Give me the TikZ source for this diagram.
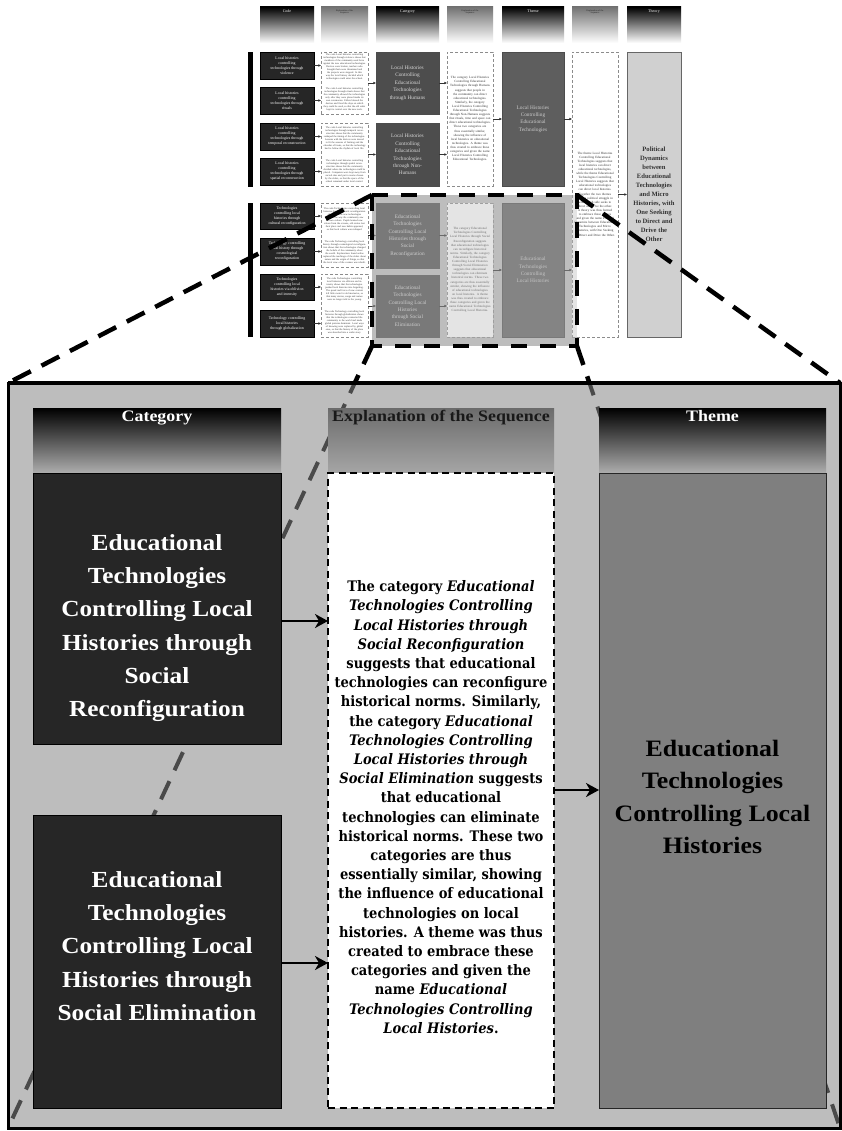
\documentclass[tikz,border=0pt]{standalone}
\usepackage{fontspec}
\setmainfont{Liberation Serif}
\newfontfamily\bodyfont{DejaVu Serif Condensed}
\newfontfamily\widefont[FakeStretch=1.1]{Liberation Serif}
\newfontfamily\headfont[FakeStretch=1.12]{Liberation Serif}
\usetikzlibrary{arrows.meta,calc}

\definecolor{panelbg}{HTML}{BDBDBD}
\definecolor{catfill}{HTML}{262626}
\definecolor{themefill}{HTML}{7F7F7F}
\definecolor{seqline}{HTML}{4A4A4A}
\definecolor{thcatfill}{HTML}{4D4D4D}
\definecolor{ththemefill}{HTML}{5E5E5E}
\definecolor{ththeoryfill}{HTML}{D0D0D0}

% box from its corners: name, style, x1, y1, x2, y2, text
\newcommand\boxnode[7]{\node[#2, minimum width={(#5)-(#3)}, minimum height={(#6)-(#4)}] (#1) at ({((#3)+(#5))/2},{((#4)+(#6))/2}) {#7};}

\tikzset{
  every node/.style={inner sep=0pt, outer sep=0pt, align=center},
  % small overview
  thhead/.style={top color=black, bottom color=white},
  thxhead/.style={top color=black!55, bottom color=white},
  thheadtext/.style={text=white, font=\fontsize{4}{4.5}\selectfont},
  thxheadtext/.style={text=black!85, font=\fontsize{2.3}{2.7}\selectfont},
  thcode/.style={fill=catfill, draw=black, line width=0.4pt, text=white, font=\fontsize{3.9}{5}\selectfont},
  thexp/.style={fill=white, draw=black!45, densely dashed, line width=0.4pt},
  thexptext/.style={text width=43pt, text=black!80, font=\fontsize{2.5}{3}\selectfont},
  thseqtext/.style={text width=42pt, text=black!80, font=\fontsize{3.2}{4.1}\selectfont},
  thcat/.style={fill=thcatfill, draw=black!70, line width=0.4pt, text=white!85!black, font=\fontsize{5.3}{7.4}\selectfont},
  ththeme/.style={fill=ththemefill, draw=black!70, line width=0.4pt, text=white!80!black, font=\fontsize{5.3}{7.4}\selectfont},
  ththeory/.style={fill=ththeoryfill, draw=black!60, line width=0.5pt, text=black!80, font=\bfseries\fontsize{6.6}{9}\selectfont},
  tharr/.style={-{Latex[length=2.6pt,width=2.6pt]}, line width=0.5pt, black!80},
  thbar/.style={fill=black},
  zoomframe/.style={draw=black, line width=4pt, dash pattern=on 16pt off 13pt},
  % enlarged view
  seqouter/.style={black, line width=4.5pt, dash pattern=on 20pt off 12pt},
  seqinner/.style={seqline, line width=4pt, dash pattern=on 20pt off 12pt},
  bighead/.style={top color=black, bottom color=black!32},
  bigxhead/.style={top color=black!58, bottom color=black!35},
  headtext/.style={font=\headfont\bfseries\fontsize{16}{18}\selectfont},
  bigcat/.style={fill=catfill, draw=black, line width=1pt},
  bigtheme/.style={fill=themefill, draw=black!85, line width=1pt},
  bigexp/.style={fill=white, draw=black, line width=2.2pt, dash pattern=on 7pt off 4.5pt},
  cattext/.style={text=white, font=\widefont\bfseries\fontsize{23}{33.3}\selectfont},
  themetext/.style={text=black, font=\widefont\bfseries\fontsize{23.5}{32.5}\selectfont},
  exptext/.style={text=black, font=\bodyfont\bfseries\fontsize{14.5}{19.2}\selectfont},
  bigarr/.style={-{Stealth[length=13pt,width=14pt,inset=4pt]}, line width=2pt, black},
}

\begin{document}
\begin{tikzpicture}[x=1pt,y=-1pt]
\useasboundingbox (0,0) rectangle (842,1131);
\fill[white] (0,0) rectangle (842,1131);

% corners of the enlarged region and of the enlarged view
\coordinate (ztl) at (372,195);
\coordinate (ztr) at (577,195);
\coordinate (zbl) at (372,346);
\coordinate (zbr) at (577,346);
\coordinate (ptl) at (8,383);
\coordinate (ptr) at (840,383);
\coordinate (pbl) at (8,1128);
\coordinate (pbr) at (840,1128);

% grey ground of the enlarged region
\fill[panelbg] (ztl) rectangle (zbr);

% ---------- overview: column heads ----------
\boxnode{h1}{thhead}{260}{7}{314}{43}{}
\boxnode{h2}{thxhead}{321}{7}{368}{43}{}
\boxnode{h3}{thhead}{376}{7}{439}{43}{}
\boxnode{h4}{thxhead}{447}{7}{493}{43}{}
\boxnode{h5}{thhead}{502}{7}{564}{43}{}
\boxnode{h6}{thxhead}{572}{7}{618}{43}{}
\boxnode{h7}{thhead}{627}{7}{681}{43}{}
\node[thheadtext, anchor=north] at ($(h1.north)+(0,2.5)$) {Code};
\node[thxheadtext, anchor=north] at ($(h2.north)+(0,2.5)$) {Explanation of the\\Sequence};
\node[thheadtext, anchor=north] at ($(h3.north)+(0,2.5)$) {Category};
\node[thxheadtext, anchor=north] at ($(h4.north)+(0,2.5)$) {Explanation of the\\Sequence};
\node[thheadtext, anchor=north] at ($(h5.north)+(0,2.5)$) {Theme};
\node[thxheadtext, anchor=north] at ($(h6.north)+(0,2.5)$) {Explanation of the\\Sequence};
\node[thheadtext, anchor=north] at ($(h7.north)+(0,2.5)$) {Theory};

% ---------- overview: brackets ----------
\fill[thbar] (248,52) rectangle (253,187);
\fill[thbar] (248,203) rectangle (253,337);

% ---------- overview: codes ----------
\boxnode{c1}{thcode}{260}{52}{314}{79}{Local histories\\controlling\\technologies through\\violence}
\boxnode{c2}{thcode}{260}{87}{314}{114}{Local histories\\controlling\\technologies through\\rituals}
\boxnode{c3}{thcode}{260}{123}{314}{150}{Local histories\\controlling\\technologies through\\temporal reconstruction}
\boxnode{c4}{thcode}{260}{158}{314}{185}{Local histories\\controlling\\technologies through\\spatial reconstruction}
\boxnode{c5}{thcode}{260}{203}{314}{229}{Technologies\\controlling local\\histories through\\cultural reconfiguration}
\boxnode{c6}{thcode}{260}{238}{314}{265}{Technology controlling\\local history through\\cosmological\\reconfiguration}
\boxnode{c7}{thcode}{260}{274}{314}{300}{Technologies\\controlling local\\histories via oblivion\\and intensity}
\boxnode{c8}{thcode}{260}{310}{314}{337}{Technology controlling\\local histories\\through globalization}

% ---------- overview: explanations of codes ----------
\boxnode{x1}{thexp}{321}{52}{368}{114}{}
\boxnode{x2}{thexp}{321}{123}{368}{186}{}
\boxnode{x3}{thexp}{321}{203}{368}{267}{}
\boxnode{x4}{thexp}{321}{274}{368}{337}{}
\node[thexptext] (t1) at (344.5,67) {The code Local histories controlling technologies through violence shows that members of the community used force against the new educational technologies. Devices were broken, teachers who brought them were threatened and the projects were stopped. In this way the local history decided which technologies could enter the school.};
\node[thexptext] (t2) at (344.5,99) {The code Local histories controlling technologies through rituals shows that the community allowed the technologies only after they were placed inside its own ceremonies. Elders blessed the devices and fixed the days on which they could be used, so that the old order kept its control over the new tools.};
\node[thexptext] (t3) at (344.5,138) {The code Local histories controlling technologies through temporal reconstruction shows that the community reshaped the timing of the technologies. Lessons with the devices were moved to fit the seasons of farming and the calendar of feasts, so that the technology had to follow the rhythm of local life.};
\node[thexptext] (t4) at (344.5,171) {The code Local histories controlling technologies through spatial reconstruction shows that the community decided where the technologies could be placed. Computers were kept away from sacred sites and put in rooms chosen by the elders, so that the space of the school remained under local control.};
\node[thexptext] (t5) at (344.5,219) {The code Technologies controlling local histories through cultural reconfiguration shows that the new technologies changed the way the community saw its own culture. Pupils learned new values from the screens, old stories lost their place and new habits appeared, so that local culture was reshaped.};
\node[thexptext] (t6) at (344.5,252) {The code Technology controlling local history through cosmological reconfiguration shows that the technologies changed the beliefs of the community about the world. Explanations found online replaced the teachings of the elders about nature and the origin of things, so that the local view of the cosmos was rebuilt.};
\node[thexptext] (t7) at (344.5,289) {The code Technologies controlling local histories via oblivion and intensity shows that the technologies pushed local histories into forgetting. The speed and force of new content left little room for old memories, so that many stories, songs and names were no longer told to the young.};
\node[thexptext] (t8) at (344.5,322) {The code Technology controlling local histories through globalization shows that the technologies connected the community to the world and made global patterns dominant. Local ways of knowing were replaced by global ones, so that the history of the place was absorbed into a wider story.};

% ---------- overview: categories ----------
\boxnode{k1}{thcat}{376}{52}{439}{114}{Local Histories\\Controlling\\Educational\\Technologies\\through Humans}
\boxnode{k2}{thcat}{376}{123}{439}{186}{Local Histories\\Controlling\\Educational\\Technologies\\through Non-\\Humans}
\boxnode{k3}{thcat}{376}{203}{439}{268}{Educational\\Technologies\\Controlling Local\\Histories through\\Social\\Reconfiguration}
\boxnode{k4}{thcat}{376}{275}{439}{337}{Educational\\Technologies\\Controlling Local\\Histories\\through Social\\Elimination}

% ---------- overview: explanations of categories ----------
\boxnode{y1}{thexp}{447}{52}{493}{186}{}
\boxnode{y2}{thexp}{447}{203}{493}{337}{}
\node[thseqtext] (u1) at (470,119) {The category Local Histories Controlling Educational Technologies through Humans suggests that people in the community can direct educational technologies. Similarly, the category Local Histories Controlling Educational Technologies through Non-Humans suggests that rituals, time and space can direct educational technologies. These two categories are thus essentially similar, showing the influence of local histories on educational technologies. A theme was thus created to embrace these categories and given the name Local Histories Controlling Educational Technologies.};
\node[thseqtext] (u2) at (470,270) {The category Educational Technologies Controlling Local Histories through Social Reconfiguration suggests that educational technologies can reconfigure historical norms. Similarly, the category Educational Technologies Controlling Local Histories through Social Elimination suggests that educational technologies can eliminate historical norms. These two categories are thus essentially similar, showing the influence of educational technologies on local histories. A theme was thus created to embrace these categories and given the name Educational Technologies Controlling Local Histories.};

% ---------- overview: themes ----------
\boxnode{m1}{ththeme}{502}{52}{564}{186}{Local Histories\\Controlling\\Educational\\Technologies}
\boxnode{m2}{ththeme}{502}{203}{564}{337}{Educational\\Technologies\\Controlling\\Local Histories}

% ---------- overview: explanation of themes and theory ----------
\boxnode{z1}{thexp}{572}{52}{618}{337}{}
\node[thseqtext] (v1) at (595,194) {The theme Local Histories Controlling Educational Technologies suggests that local histories can direct educational technologies, while the theme Educational Technologies Controlling Local Histories suggests that educational technologies can direct local histories. Together the two themes show a political struggle in which each side seeks to direct and drive the other. A theory was thus formed to embrace these themes and given the name Political Dynamics between Educational Technologies and Micro Histories, with One Seeking to Direct and Drive the Other.};
\boxnode{r1}{ththeory}{627}{52}{681}{337}{Political\\Dynamics\\between\\Educational\\Technologies\\and Micro\\Histories, with\\One Seeking\\to Direct and\\Drive the\\Other}

% ---------- overview: connectors ----------
\foreach \c/\x in {c1/x1,c2/x1,c3/x2,c4/x2,c5/x3,c6/x3,c7/x4,c8/x4}
  \draw[tharr] (\c.east) -- (\c.east -| \x.west);
\foreach \x/\k in {x1/k1,x2/k2,x3/k3,x4/k4}
  \draw[tharr] (\k.west -| \x.east) -- (\k.west);
\foreach \k/\y in {k1/y1,k2/y1,k3/y2,k4/y2}
  \draw[tharr] (\k.east) -- (\k.east -| \y.west);
\draw[tharr] (y1.east) -- (m1.west);
\draw[tharr] (y2.east) -- (m2.west);
\draw[tharr] (m1.east) -- (m1.east -| z1.west);
\draw[tharr] (m2.east) -- (m2.east -| z1.west);
\draw[tharr] (z1.east) -- (r1.west);

% ---------- enlarged region in the overview ----------
\fill[panelbg, opacity=0.4] (ztl) rectangle (zbr);
\draw[zoomframe] (ztl) rectangle (zbr);

% projection lines
\draw[seqouter] (ztl) -- (ptl);
\draw[seqouter] (ztr) -- (ptr);
\draw[seqouter] (zbl) -- (pbl);
\draw[seqouter] (zbr) -- (pbr);

% ---------- enlarged view ----------
\fill[panelbg] (ptl) rectangle (pbr);
\begin{scope}
  \clip (ptl) rectangle (pbr);
  \draw[seqinner] (zbl) -- (pbl);
  \draw[seqinner] (zbr) -- (pbr);
\end{scope}
\draw[black, line width=3pt] (ptl) rectangle (pbr);
\draw[black, line width=4.5pt] (ptl) -- (ptr);

\boxnode{hcat}{bighead}{33}{408}{281}{473}{}
\boxnode{hexp}{bigxhead}{328}{408}{554}{473}{}
\boxnode{hthm}{bighead}{599}{408}{826}{473}{}
\node[headtext, text=white, anchor=north] at ($(hcat.north)+(0,2.5)$) {Category};
\node[headtext, text=black!90, anchor=north] at ($(hexp.north)+(0,2.5)$) {Explanation of the Sequence};
\node[headtext, text=white, anchor=north] at ($(hthm.north)+(0,2.5)$) {Theme};

\boxnode{cat1}{bigcat}{33}{473}{281}{744}{}
\boxnode{cat2}{bigcat}{33}{815}{281}{1108}{}
\boxnode{expl}{bigexp}{328}{473}{554}{1108}{}
\boxnode{thm}{bigtheme}{599}{473}{826}{1108}{}

\node[cattext] at (157,628) {Educational\\Technologies\\Controlling Local\\Histories through\\Social\\Reconfiguration};
\node[cattext] at (157,946) {Educational\\Technologies\\Controlling Local\\Histories through\\Social Elimination};
\node[themetext] at (712.5,797) {Educational\\Technologies\\Controlling Local\\Histories};
\node[exptext] at (441,807) {The category \textit{Educational}\\
\textit{Technologies Controlling}\\
\textit{Local Histories through}\\
\textit{Social Reconfiguration}\\
suggests that educational\\
technologies can reconfigure\\
historical norms. Similarly,\\
the category \textit{Educational}\\
\textit{Technologies Controlling}\\
\textit{Local Histories through}\\
\textit{Social Elimination} suggests\\
that educational\\
technologies can eliminate\\
historical norms. These two\\
categories are thus\\
essentially similar, showing\\
the influence of educational\\
technologies on local\\
histories. A theme was thus\\
created to embrace these\\
categories and given the\\
name \textit{Educational}\\
\textit{Technologies Controlling}\\
\textit{Local Histories}.};

\draw[bigarr] (cat1.east |- 0,621) -- (expl.west |- 0,621);
\draw[bigarr] (cat2.east |- 0,963) -- (expl.west |- 0,963);
\draw[bigarr] (expl.east |- 0,790) -- (thm.west |- 0,790);
\end{tikzpicture}
\end{document}
